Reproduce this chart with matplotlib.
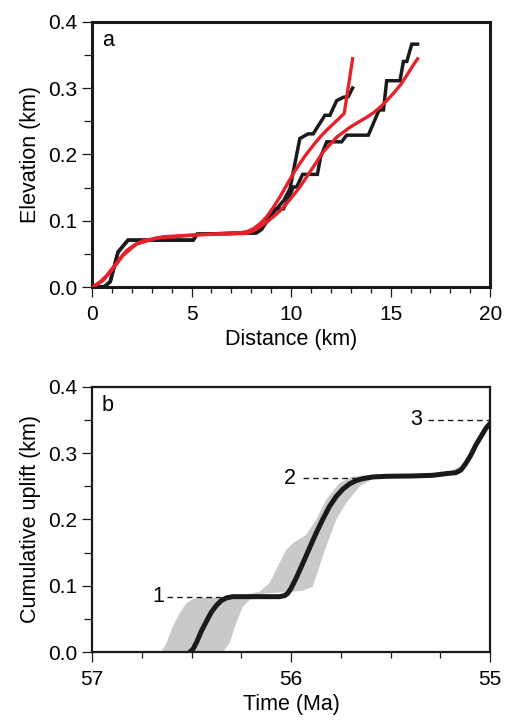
import matplotlib
matplotlib.use('Agg')
import matplotlib.pyplot as plt
from matplotlib.ticker import MultipleLocator

plt.rcParams['font.family'] = ['Liberation Sans', 'DejaVu Sans']

# panel a: profiles (distance km, elevation km)
dist_a1 = [0, 0.64, 0.92, 1.31, 1.81, 5.08, 5.28, 8.26, 8.52, 8.94, 9.27, 9.64, 9.94,
           10.44, 10.86, 11.11, 11.70, 11.95, 12.29, 12.62, 12.87, 13.09]
elev_a1 = [0, 0.001, 0.0086, 0.053, 0.071, 0.071, 0.080, 0.082, 0.087, 0.107, 0.118, 0.131, 0.148,
           0.224, 0.231, 0.231, 0.259, 0.259, 0.281, 0.286, 0.287, 0.300]
dist_a2 = [0, 0.64, 0.92, 1.31, 1.81, 5.08, 5.28, 8.26, 8.43, 8.85, 9.19, 9.61, 9.86, 10.11,
           10.28, 10.58, 11.32, 11.48, 11.79, 12.54, 12.79, 13.88, 14.42, 14.64, 14.80, 15.47,
           15.64, 15.81, 16.06, 16.35]
elev_a2 = [0, 0.001, 0.0086, 0.053, 0.071, 0.071, 0.080, 0.082, 0.086, 0.101, 0.118, 0.118, 0.133, 0.151,
           0.151, 0.170, 0.170, 0.196, 0.219, 0.219, 0.229, 0.229, 0.267, 0.267, 0.311, 0.311,
           0.340, 0.340, 0.366, 0.366]
# smoothed fits (red)
fit_d1 = [0, 0.39, 0.75, 1.06, 1.40, 1.73, 2.15, 2.56, 3.57, 5.25, 7.43, 7.80, 8.10, 8.45, 8.77,
          9.10, 9.44, 9.78, 10.11, 10.45, 10.78, 11.12, 11.45, 11.80, 12.12, 12.40, 12.67, 13.09]
fit_e1 = [0, 0.0075, 0.018, 0.030, 0.043, 0.055, 0.064, 0.070, 0.076, 0.079, 0.082, 0.084, 0.088,
          0.096, 0.106, 0.120, 0.136, 0.154, 0.171, 0.187, 0.201, 0.214, 0.226, 0.237, 0.246,
          0.254, 0.262, 0.344]
fit_d2 = [0, 0.55, 1.06, 1.56, 2.23, 3.24, 5.25, 7.76, 8.10, 8.43, 8.77, 9.10, 9.44, 9.77, 10.10,
          10.44, 10.78, 11.11, 11.62, 12.29, 12.96, 13.40, 13.80, 14.15, 14.47, 14.80, 15.14,
          15.50, 15.81, 16.10, 16.35]
fit_e2 = [0, 0.010, 0.028, 0.048, 0.065, 0.074, 0.079, 0.081, 0.085, 0.091, 0.098, 0.106, 0.115,
          0.126, 0.138, 0.151, 0.166, 0.181, 0.204, 0.226, 0.241, 0.249, 0.256, 0.263, 0.271,
          0.281, 0.292, 0.305, 0.319, 0.333, 0.344]

# panel b: cumulative uplift history (Ma, km)
t_b = [56.510, 56.493, 56.473, 56.452, 56.426, 56.401, 56.376, 56.351, 56.326, 56.293, 56.059,
       56.033, 56.017, 56.000, 55.975, 55.941, 55.908, 55.875, 55.841, 55.808, 55.774, 55.741,
       55.707, 55.674, 55.640, 55.590, 55.523, 55.390, 55.289, 55.222, 55.172, 55.147, 55.122,
       55.097, 55.072, 55.047, 55.022, 55.000]
u_b = [0, 0.0045, 0.0161, 0.0311, 0.0462, 0.0602, 0.0703, 0.0778, 0.0818, 0.0838, 0.0838,
       0.0853, 0.0888, 0.0964, 0.1114, 0.1340, 0.1566, 0.1791, 0.2002, 0.2193, 0.2344, 0.2454,
       0.2535, 0.2585, 0.2615, 0.2640, 0.2650, 0.2655, 0.2665, 0.2690, 0.2705, 0.2745, 0.2846,
       0.2971, 0.3122, 0.3247, 0.3372, 0.3448]
# uncertainty envelope outline
band_t = [56.652, 56.627, 56.594, 56.560, 56.527, 56.485, 56.393, 56.259, 56.159, 56.109, 56.059,
          56.025, 55.992, 55.925, 55.875, 55.824, 55.758, 55.691, 55.607, 55.473, 55.222, 55.156,
          55.139, 55.222, 55.473, 55.590, 55.657, 55.724, 55.774, 55.824, 55.858, 55.891, 55.941,
          55.992, 56.125, 56.192, 56.242, 56.276, 56.309, 56.343]
band_u = [0, 0.0136, 0.0386, 0.0587, 0.0738, 0.0813, 0.0828, 0.0838, 0.0913, 0.1039, 0.1340,
          0.1541, 0.1641, 0.1767, 0.1992, 0.2294, 0.2545, 0.2645, 0.2670, 0.2670, 0.2695, 0.2795,
          0.2745, 0.2655, 0.2635, 0.2615, 0.2494, 0.2243, 0.1992, 0.1591, 0.1290, 0.0989, 0.0928,
          0.0913, 0.0888, 0.0828, 0.0688, 0.0437, 0.0136, 0]
# stage markers
stage_labels = ['1', '2', '3']
stage_u = [0.0838, 0.262, 0.35]
stage_t0 = [56.624, 55.941, 55.314]
stage_t1 = [56.326, 55.649, 55.0]
stage_tl = [56.669, 56.008, 55.373]

fig = plt.figure(figsize=(5.08, 7.2), dpi=100)
ax1 = fig.add_axes([0.181, 0.601, 0.784, 0.369])
ax2 = fig.add_axes([0.181, 0.094, 0.784, 0.369])

red = '#e8202a'
ax1.plot(dist_a1, elev_a1, color='#1a1a1a', lw=2.5, solid_joinstyle='miter', zorder=2)
ax1.plot(dist_a2, elev_a2, color='#1a1a1a', lw=2.5, solid_joinstyle='miter', zorder=2)
ax1.plot(fit_d1, fit_e1, color=red, lw=2.4, zorder=3)
ax1.plot(fit_d2, fit_e2, color=red, lw=2.4, zorder=3)
ax1.set_xlim(0, 20)
ax1.set_ylim(0, 0.4)
ax1.xaxis.set_major_locator(MultipleLocator(5))
ax1.xaxis.set_minor_locator(MultipleLocator(1))
ax1.set_xlabel('Distance (km)', fontsize=15.5, labelpad=3)
ax1.set_ylabel('Elevation (km)', fontsize=15.5, labelpad=5)
ax1.text(0.025, 0.97, 'a', transform=ax1.transAxes, fontsize=15.5, va='top', ha='left')

ax2.fill(band_t, band_u, color='#c8c9cb', lw=0, zorder=1)
ax2.plot(t_b, u_b, color='#1a1a1a', lw=3.6, solid_capstyle='round', zorder=3)
for lab, u, t0, t1, tl in zip(stage_labels, stage_u, stage_t0, stage_t1, stage_tl):
    ax2.plot([t0, t1], [u, u], color='#1a1a1a', lw=1.0, ls=(0, (4, 3)), zorder=2)
    ax2.text(tl, u, lab, fontsize=15.5, ha='center', va='center')
ax2.set_xlim(57, 55)
ax2.set_ylim(0, 0.4)
ax2.xaxis.set_major_locator(MultipleLocator(1))
ax2.xaxis.set_minor_locator(MultipleLocator(0.25))
ax2.set_xlabel('Time (Ma)', fontsize=15.5, labelpad=3)
ax2.set_ylabel('Cumulative uplift (km)', fontsize=15.5, labelpad=5)
ax2.text(0.025, 0.97, 'b', transform=ax2.transAxes, fontsize=15.5, va='top', ha='left')

for ax, sw in ((ax1, 2.2), (ax2, 1.6)):
    ax.yaxis.set_major_locator(MultipleLocator(0.1))
    ax.yaxis.set_minor_locator(MultipleLocator(0.05))
    ax.yaxis.set_major_formatter(matplotlib.ticker.FormatStrFormatter('%.1f'))
    for s in ax.spines.values():
        s.set_linewidth(sw)
        s.set_color('#1a1a1a')
    ax.tick_params(which='major', direction='out', length=7, width=0.9, labelsize=15, color='#1a1a1a')
    ax.tick_params(which='minor', direction='out', length=4.5, width=0.9, color='#1a1a1a')
    ax.tick_params(axis='y', which='minor', length=6)
    ax.tick_params(axis='x', pad=6)

fig.savefig('out.png', dpi=100)
